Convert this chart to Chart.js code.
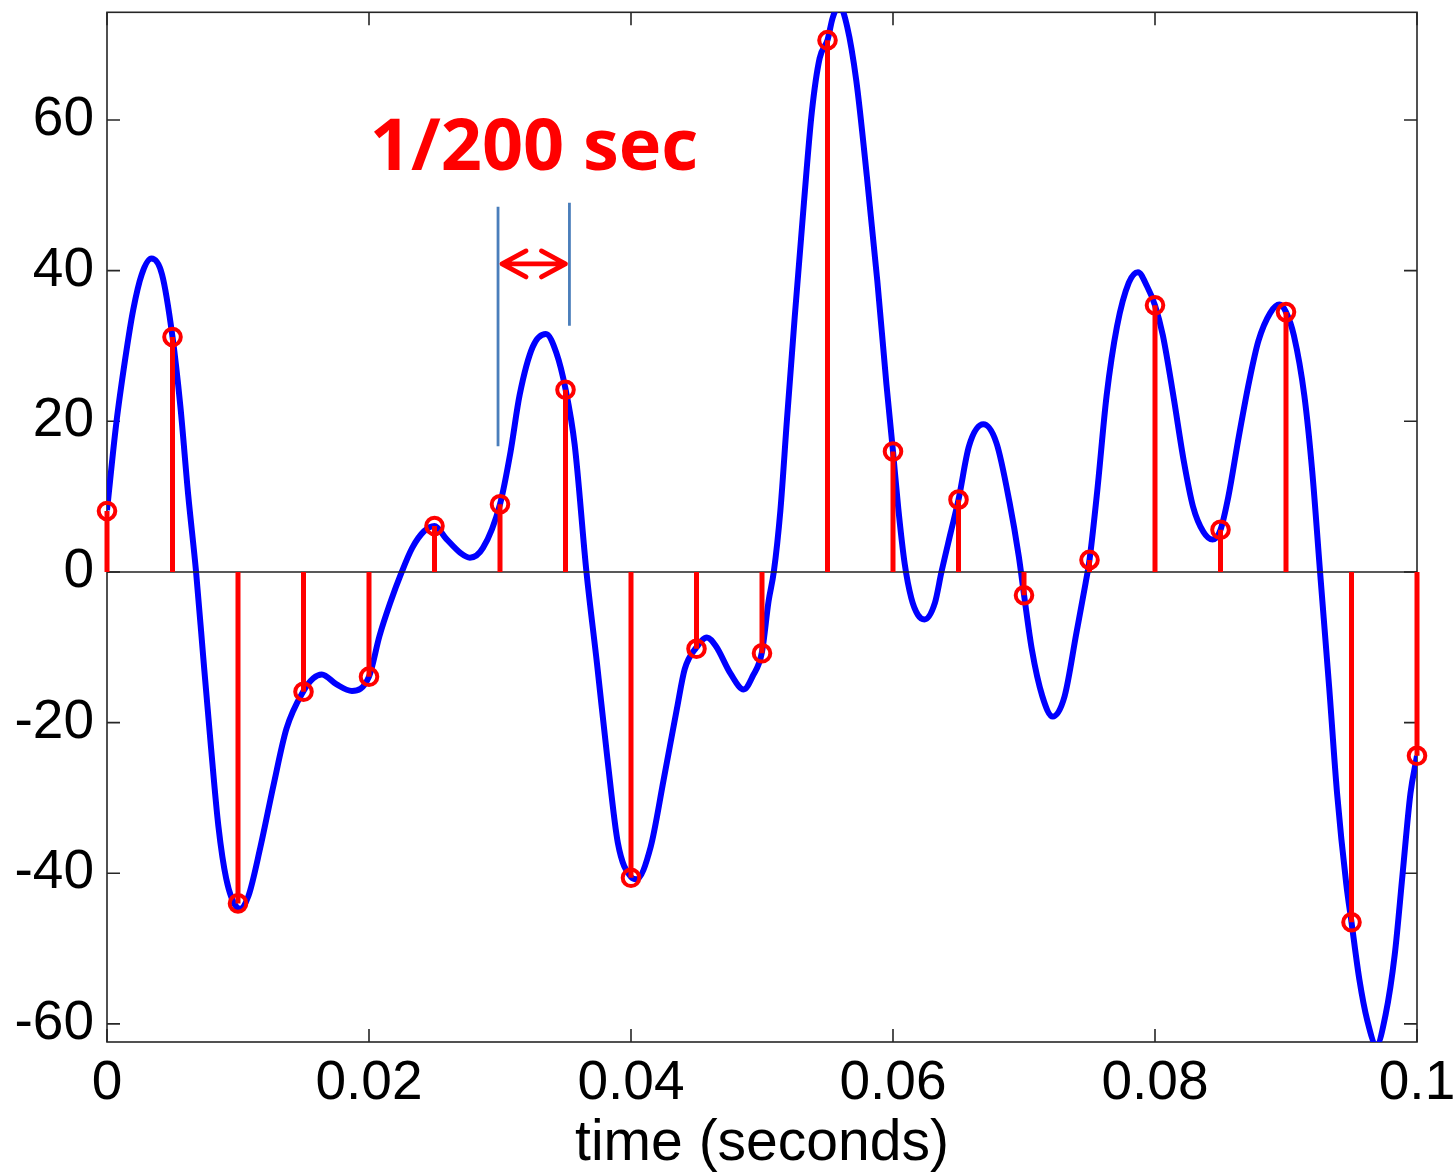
<!DOCTYPE html>
<html>
<head>
<meta charset="utf-8">
<script src="https://cdn.jsdelivr.net/npm/chart.js@4.4.1/dist/chart.umd.min.js"></script>
<style>
  html, body { margin: 0; padding: 0; background: #fff; }
  #wrap { width: 1455px; height: 1175px; position: relative; }
</style>
</head>
<body>
<div id="wrap"><canvas id="chart"></canvas></div>
<script>
// ======================
// DATA
// ======================
// continuous signal (blue)
const curveT = [0, 0.0007, 0.0014, 0.002, 0.00265, 0.0034, 0.0042, 0.005, 0.0056, 0.0062, 0.0068, 0.00735, 0.0079, 0.0085, 0.0091, 0.0099, 0.0102, 0.0108, 0.0117, 0.0127, 0.0137,
  0.015, 0.01575, 0.0164, 0.0175, 0.0187, 0.02, 0.0208, 0.0216, 0.0225, 0.0233, 0.0242, 0.025, 0.0259, 0.027, 0.0277, 0.0287, 0.03, 0.0308, 0.0315, 0.0325, 0.0335, 0.0343,
  0.035, 0.0357, 0.0366, 0.0374, 0.0382, 0.039, 0.04, 0.0404, 0.0415, 0.0425, 0.0435, 0.0441, 0.045, 0.0458, 0.0465, 0.0476, 0.0486, 0.0493, 0.05, 0.0505, 0.0509, 0.0514,
  0.0519, 0.0525, 0.0532, 0.0538, 0.0544, 0.055, 0.0554, 0.0559, 0.0565, 0.0572, 0.058, 0.0588, 0.0595, 0.06, 0.0604, 0.0609, 0.0614, 0.0619, 0.0624, 0.0632, 0.0637, 0.0644, 0.065,
  0.0658, 0.0669, 0.0679, 0.0689, 0.0696, 0.07, 0.0706, 0.0714, 0.0722, 0.0731, 0.074, 0.0747, 0.075, 0.0756, 0.0763, 0.0771, 0.078, 0.0787, 0.0794, 0.08, 0.0806, 0.0814,
  0.0822, 0.0829, 0.0837, 0.0844, 0.085, 0.0856, 0.0864, 0.0872, 0.0879, 0.0888, 0.0895, 0.09, 0.0906, 0.0914, 0.092, 0.0926, 0.0933, 0.0939, 0.0946, 0.095, 0.0956, 0.0962,
  0.0969, 0.0976, 0.0983, 0.0989, 0.0995, 0.1];
const curveV = [8.2, 19.6, 28.4, 34.8, 39.5, 41.6, 39.5, 31.2, 22, 10.2, 0, -11.4, -22.5, -33.7, -40.7, -44.5, -44.7, -43, -36.6, -28.4, -20.8,
  -15.8, -14.1, -13.6, -14.9, -15.8, -13.9, -8.5, -4.2, 0, 3.2, 5.4, 6.1, 4.4, 2.5, 1.9, 3.2, 9.0, 15.9, 23.5, 29.9, 31.6, 29.1,
  24.3, 16.9, 0, -12.1, -24.8, -36, -40.5, -40.8, -36.5, -27.5, -18.2, -12.9, -10.0, -8.7, -9.9, -13.5, -15.6, -13.8, -10.6, -3.9, 0, 8.1,
  20.1, 33.9, 49, 61, 68.2, 70.6, 73.6, 75.2, 72.4, 65.2, 52.6, 38.7, 24.9, 16.0, 8.5, 1.0, -3.5, -5.7, -6.3, -4.1, 0, 5.2, 9.6,
  16.7, 19.6, 17.1, 9.2, 2.1, -3.0, -10.3, -16.5, -19.2, -16.5, -8.1, -1.5, 1.6, 10.9, 23.3, 32.6, 38.4, 39.8, 37.9, 35.4, 31.4, 23.4,
  14.7, 8.7, 5.3, 4.3, 5.6, 10.0, 18.0, 25.4, 30.7, 34.4, 35.5, 34.5, 31.4, 23.4, 13.4, 0, -15.4, -29.4, -41.4, -46.5, -54.1, -59.5,
  -62.8, -58.8, -50.8, -40.1, -29.4, -24.4];

// samples every 1/200 s (red stems)
const sampleT = [0, 0.005, 0.01, 0.015, 0.02, 0.025, 0.03, 0.035, 0.04, 0.045, 0.05, 0.055, 0.06, 0.065, 0.07, 0.075, 0.08, 0.085, 0.09, 0.095, 0.1];
const sampleV = [8.1, 31.2, -44.0, -15.9, -13.9, 6.1, 9.0, 24.2, -40.6, -10.2, -10.8, 70.6, 16.0, 9.6, -3.1, 1.6, 35.4, 5.6, 34.5, -46.5, -24.4];

// axes
const xTicks = [0, 0.02, 0.04, 0.06, 0.08, 0.1];
const xTickLabels = ['0', '0.02', '0.04', '0.06', '0.08', '0.1'];
const yTicks = [-60, -40, -20, 0, 20, 40, 60];
const yTickLabels = ['-60', '-40', '-20', '0', '20', '40', '60'];
const xRange = [0, 0.1];
const yRange = [-62.4, 74.3];
const xTitle = 'time (seconds)';
const noteText = '1/200 sec';

// ======================
// DATASETS
// ======================
const curve = curveT.map((t, i) => ({ x: t, y: curveV[i] }));
const stems = sampleT.flatMap((t, i) => [{ x: t, y: 0 }, { x: t, y: sampleV[i] }, { x: t, y: null }]);
const marks = sampleT.map((t, i) => ({ x: t, y: sampleV[i] }));
const baseline = xRange.map(t => ({ x: t, y: 0 }));

const TICK_FONT = { family: '"Liberation Sans", Arial, sans-serif', size: 55 };

// frame + inward ticks (matlab style)
const framePlugin = {
  id: 'frame',
  beforeDatasetsDraw(chart) {
    const { ctx, chartArea: a, scales: { x, y } } = chart;
    ctx.save();
    ctx.strokeStyle = '#262626';
    ctx.lineWidth = 1.6;
    ctx.strokeRect(a.left, a.top, a.right - a.left, a.bottom - a.top);
    ctx.beginPath();
    xTicks.forEach(v => {
      const px = x.getPixelForValue(v);
      ctx.moveTo(px, a.bottom); ctx.lineTo(px, a.bottom - 13);
      ctx.moveTo(px, a.top); ctx.lineTo(px, a.top + 13);
    });
    yTicks.forEach(v => {
      const py = y.getPixelForValue(v);
      ctx.moveTo(a.left, py); ctx.lineTo(a.left + 13, py);
      ctx.moveTo(a.right, py); ctx.lineTo(a.right - 13, py);
    });
    ctx.stroke();
    ctx.restore();
  }
};

// "1/200 sec" note with markers
const notePlugin = {
  id: 'note',
  afterDraw(chart) {
    const { ctx, scales: { x, y } } = chart;
    const xl = x.getPixelForValue(0.02985), xr = x.getPixelForValue(0.0353);
    ctx.save();
    ctx.strokeStyle = '#4a7ebb';
    ctx.lineWidth = 2.8;
    ctx.beginPath();
    ctx.moveTo(xl, y.getPixelForValue(48.5)); ctx.lineTo(xl, y.getPixelForValue(16.7));
    ctx.moveTo(xr, y.getPixelForValue(49)); ctx.lineTo(xr, y.getPixelForValue(32.7));
    ctx.stroke();

    const ay = y.getPixelForValue(40.9);
    ctx.strokeStyle = '#ff0000';
    ctx.lineWidth = 4.8;
    ctx.lineCap = 'round';
    ctx.lineJoin = 'round';
    ctx.beginPath();
    ctx.moveTo(xl + 4, ay); ctx.lineTo(xr - 4, ay);
    ctx.moveTo(xl + 28, ay - 13); ctx.lineTo(xl + 4, ay); ctx.lineTo(xl + 28, ay + 13);
    ctx.moveTo(xr - 28, ay - 13); ctx.lineTo(xr - 4, ay); ctx.lineTo(xr - 28, ay + 13);
    ctx.stroke();

    ctx.fillStyle = '#ff0000';
    ctx.font = 'bold 72px "Open Sans", sans-serif';
    ctx.textAlign = 'center';
    ctx.textBaseline = 'alphabetic';
    ctx.fillText(noteText, x.getPixelForValue(0.0326), y.getPixelForValue(53.4));
    ctx.restore();
  }
};

new Chart(document.getElementById('chart'), {
  type: 'scatter',
  data: {
    datasets: [
      { data: marks, showLine: false, pointStyle: 'circle', pointRadius: 8.3, pointBorderWidth: 4,
        pointBorderColor: '#ff0000', pointBackgroundColor: 'rgba(0,0,0,0)', clip: false, order: 0 },
      { data: stems, showLine: true, borderColor: '#ff0000', borderWidth: 5, pointRadius: 0,
        spanGaps: false, clip: false, order: 1 },
      { data: baseline, showLine: true, borderColor: '#222', borderWidth: 1.6, pointRadius: 0, order: 2 },
      { data: curve, showLine: true, borderColor: '#0000ff', borderWidth: 6, pointRadius: 0,
        cubicInterpolationMode: 'monotone', clip: 0, order: 3 }
    ]
  },
  options: {
    responsive: true,
    maintainAspectRatio: false,
    animation: false,
    events: [],
    layout: { padding: { top: 12, right: 38, bottom: 0, left: 0 } },
    plugins: { legend: { display: false }, tooltip: { enabled: false } },
    scales: {
      x: {
        type: 'linear', position: 'bottom', min: xRange[0], max: xRange[1],
        grid: { display: false, drawTicks: false }, border: { display: false },
        afterBuildTicks: s => { s.ticks = xTicks.map(v => ({ value: v })); },
        afterFit: s => { s.height = 133; s.paddingLeft = 0; s.paddingRight = 0; },
        ticks: { font: TICK_FONT, color: '#000', padding: 9, maxRotation: 0, autoSkip: false,
          callback: (v, i) => xTickLabels[i] },
        title: { display: true, text: xTitle, color: '#000',
          font: { family: '"Liberation Sans", Arial, sans-serif', size: 57, lineHeight: 1 }, padding: { top: 0, bottom: 2 } }
      },
      y: {
        type: 'linear', min: yRange[0], max: yRange[1],
        grid: { display: false, drawTicks: false }, border: { display: false },
        afterBuildTicks: s => { s.ticks = yTicks.map(v => ({ value: v })); },
        afterFit: s => { s.width = 107; s.paddingTop = 0; s.paddingBottom = 0; },
        ticks: { font: TICK_FONT, color: '#000', padding: 13, autoSkip: false,
          callback: (v, i) => yTickLabels[i] }
      }
    }
  },
  plugins: [framePlugin, notePlugin]
});
</script>
</body>
</html>
